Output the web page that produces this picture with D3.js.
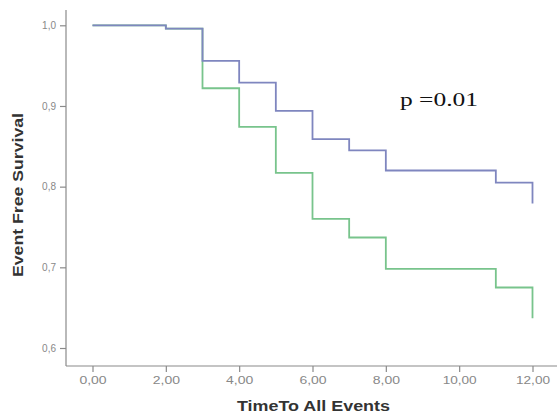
<!DOCTYPE html>
<html>
<head>
<meta charset="utf-8">
<script src="https://cdn.jsdelivr.net/npm/d3@7"></script>
<style>
  html, body { margin: 0; padding: 0; background: #fff; }
  svg { display: block; }
</style>
</head>
<body>
<div id="chart"></div>
<script>
// ---- data ----
const times = [0, 2, 3, 4, 5, 6, 7, 8, 11, 12];
const survivalBlue  = [1.000, 0.996, 0.956, 0.929, 0.894, 0.859, 0.845, 0.820, 0.805, 0.779];
const survivalGreen = [1.000, 0.996, 0.922, 0.874, 0.817, 0.760, 0.737, 0.698, 0.675, 0.637];
const xTicks = [0, 2, 4, 6, 8, 10, 12];
const xTickLabels = ["0,00", "2,00", "4,00", "6,00", "8,00", "10,00", "12,00"];
const yTicks = [0.6, 0.7, 0.8, 0.9, 1.0];
const yTickLabels = ["0,6", "0,7", "0,8", "0,9", "1,0"];
const xTitle = "TimeTo All Events";
const yTitle = "Event Free Survival";
const annotation = "p =0.01";

const W = 557, H = 416;
const svg = d3.select("#chart").append("svg").attr("width", W).attr("height", H);

const x = d3.scaleLinear().domain([0, 12]).range([92.5, 532.5]);
const y = d3.scaleLinear().domain([0.6, 1.0]).range([348, 25.3]);

const axisX0 = 66, axisY0 = 366;
const axisColor = "#8a8a8a";
const tickTextColor = "#888";

// Y axis
const yAxis = d3.axisLeft(y).tickValues(yTicks)
  .tickFormat((d, i) => yTickLabels[i]).tickSize(6).tickPadding(4);
const gy = svg.append("g").attr("transform", `translate(${axisX0},0)`).call(yAxis);
gy.select(".domain").remove();
gy.append("line").attr("x1", 0).attr("x2", 0).attr("y1", 10).attr("y2", axisY0)
  .attr("stroke", axisColor).attr("stroke-width", 1.2);
gy.selectAll(".tick line").attr("stroke", axisColor).attr("stroke-width", 1.2);
gy.selectAll(".tick text").attr("fill", tickTextColor)
  .style("font-family", "Arial, 'Liberation Sans', sans-serif").style("font-size", "10px");

// X axis
const xAxis = d3.axisBottom(x).tickValues(xTicks)
  .tickFormat((d, i) => xTickLabels[i]).tickSize(6).tickPadding(5);
const gx = svg.append("g").attr("transform", `translate(0,${axisY0})`).call(xAxis);
gx.select(".domain").remove();
gx.append("line").attr("x1", axisX0).attr("x2", W).attr("y1", 0).attr("y2", 0)
  .attr("stroke", axisColor).attr("stroke-width", 1.2);
gx.selectAll(".tick line").attr("stroke", axisColor).attr("stroke-width", 1.2);
gx.selectAll(".tick text").attr("fill", tickTextColor)
  .style("font-family", "Arial, 'Liberation Sans', sans-serif").style("font-size", "10px")
  .attr("textLength", (d, i) => xTickLabels[i].length * 6.8)
  .attr("lengthAdjust", "spacingAndGlyphs");

// Curves
const line = d3.line().x(d => x(d[0])).y(d => y(d[1])).curve(d3.curveStepAfter);
const greenPts = times.map((t, i) => [t, survivalGreen[i]]);
const bluePts = times.map((t, i) => [t, survivalBlue[i]]);
svg.append("path").attr("d", line(greenPts)).attr("fill", "none")
  .attr("stroke", "#78c48c").attr("stroke-width", 1.8);
svg.append("path").attr("d", line(bluePts)).attr("fill", "none")
  .attr("stroke", "#7f86bf").attr("stroke-width", 1.8);

// Titles
svg.append("text").attr("x", 313.5).attr("y", 411).attr("text-anchor", "middle")
  .style("font-family", "Arial, 'Liberation Sans', sans-serif").style("font-weight", "bold")
  .style("font-size", "14px").attr("fill", "#333")
  .attr("textLength", 153).attr("lengthAdjust", "spacingAndGlyphs")
  .text(xTitle);
svg.append("text").attr("transform", "translate(23,195) rotate(-90)").attr("text-anchor", "middle")
  .style("font-family", "Arial, 'Liberation Sans', sans-serif").style("font-weight", "bold")
  .style("font-size", "14px").attr("fill", "#333")
  .attr("textLength", 164).attr("lengthAdjust", "spacingAndGlyphs")
  .text(yTitle);

// Annotation
svg.append("text").attr("x", 400).attr("y", 106)
  .style("font-family", "'Liberation Serif', 'Times New Roman', serif")
  .style("font-size", "19px").attr("fill", "#111")
  .attr("textLength", 78).attr("lengthAdjust", "spacingAndGlyphs")
  .text(annotation);
</script>
</body>
</html>
